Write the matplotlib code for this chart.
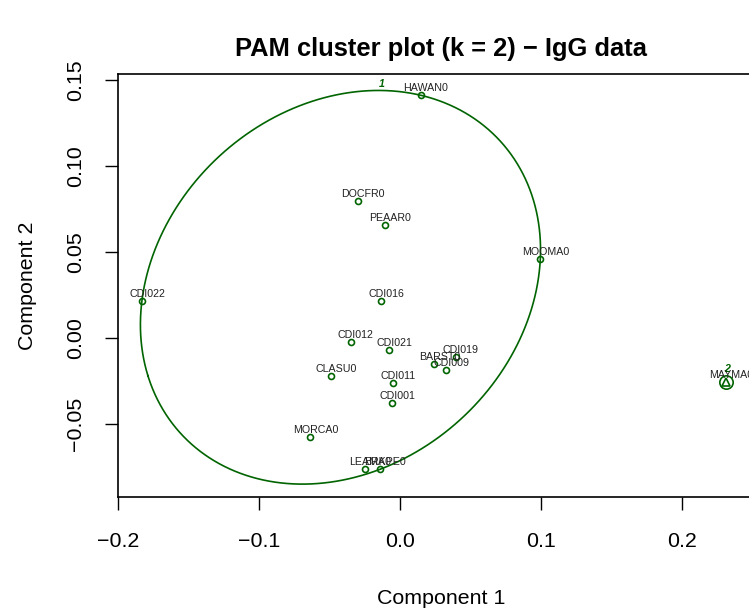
import numpy as np
import matplotlib
matplotlib.use('Agg')
import matplotlib.pyplot as plt

plt.rcParams['font.family'] = ['Liberation Sans', 'DejaVu Sans']

# --- dados: coordenadas nas duas primeiras componentes ---
nomes = ["HAWAN0", "DOCFR0", "PEAAR0", "MOOMA0", "CDI022", "CDI016", "CDI012",
         "CDI021", "BARST0", "CDI019", "CDI009", "CLASU0", "CDI011", "CDI001",
         "MORCA0", "LEAMA0", "BRKPE0", "MAYMA0"]
comp1 = [0.0149, -0.0300, -0.0106, 0.0995, -0.1830, -0.0135, -0.0348,
         -0.0078, 0.0243, 0.0395, 0.0329, -0.0489, -0.0050, -0.0054,
         -0.0636, -0.0246, -0.0142, 0.2310]
comp2 = [0.1411, 0.0797, 0.0657, 0.0461, 0.0217, 0.0215, -0.0024,
         -0.0070, -0.0153, -0.0112, -0.0184, -0.0221, -0.0264, -0.0380,
         -0.0577, -0.0763, -0.0763, -0.0254]
cluster = [1] * 17 + [2]

xticks = [-0.2, -0.1, 0.0, 0.1, 0.2]
yticks = [-0.05, 0.00, 0.05, 0.10, 0.15]

verde = '#006400'


def elipse_minima(P, tol=1e-9, maxit=20000):
    # algoritmo de Khachiyan (elipse de menor area que cobre todos os pontos)
    N, d = P.shape
    Q = np.vstack([P.T, np.ones(N)])
    u = np.ones(N) / N
    for _ in range(maxit):
        X = Q @ np.diag(u) @ Q.T
        M = np.einsum('ij,ji->i', Q.T @ np.linalg.inv(X), Q)
        j = np.argmax(M)
        step = (M[j] - d - 1) / ((d + 1) * (M[j] - 1))
        novo = (1 - step) * u
        novo[j] += step
        if np.linalg.norm(novo - u) < tol:
            u = novo
            break
        u = novo
    c = P.T @ u
    A = np.linalg.inv(P.T @ np.diag(u) @ P - np.outer(c, c)) / d
    # garante que todos os pontos ficam dentro
    dist = np.einsum('ij,jk,ik->i', P - c, A, P - c)
    A = A / dist.max()
    return A, c


x = np.array(comp1)
y = np.array(comp2)
cl = np.array(cluster)

fig = plt.figure(figsize=(7.49, 6.09), dpi=100)
ax = fig.add_axes([0.1575, 0.1839, 0.8638, 0.6946])

# cluster 1: elipse
P1 = np.column_stack([x[cl == 1], y[cl == 1]])
A, c = elipse_minima(P1)
vals, vecs = np.linalg.eigh(A)
t = np.linspace(0, 2 * np.pi, 400)
circ = np.vstack([np.cos(t), np.sin(t)])
ell = c[:, None] + vecs @ np.diag(1 / np.sqrt(vals)) @ circ
ax.plot(ell[0], ell[1], color=verde, lw=1.2)
top = ell[:, np.argmax(ell[1])]
ax.annotate("1", xy=(top[0], top[1]), xytext=(3, 5), textcoords='offset points',
            ha='center', va='center', color=verde, fontsize=7.7,
            fontweight='bold', fontstyle='italic')

ax.plot(x[cl == 1], y[cl == 1], 'o', ms=4.3, mfc='none', mec=verde, mew=1.2)

# cluster 2: um unico ponto
ax.plot(x[cl == 2], y[cl == 2], '^', ms=5.5, mfc='none', mec=verde, mew=1.2)
ax.plot(x[cl == 2], y[cl == 2], 'o', ms=9.6, mfc='none', mec=verde, mew=1.2)
ax.annotate("2", xy=(x[cl == 2][0], y[cl == 2][0]), xytext=(1, 9.5),
            textcoords='offset points', ha='center', va='center', color=verde,
            fontsize=7.7, fontweight='bold', fontstyle='italic')

for nm, xi, yi in zip(nomes, x, y):
    ax.annotate(nm, xy=(xi, yi), xytext=(3.6, 3), textcoords='offset points',
                ha='center', va='baseline', fontsize=7.7, color='#222222')

ax.set_xlim(-0.2, 0.2588)
ax.set_ylim(-0.0924, 0.1535)
ax.set_xticks(xticks)
ax.set_xticklabels(["\u22120.2", "\u22120.1", "0.0", "0.1", "0.2"])
ax.set_yticks(yticks)
ax.set_yticklabels(["\u22120.05", "0.00", "0.05", "0.10", "0.15"])
ax.tick_params(axis='both', labelsize=15.4, length=9.4, width=1.0)
ax.tick_params(axis='x', pad=16)
ax.tick_params(axis='y', labelrotation=90, pad=14)
for lab in ax.get_yticklabels():
    lab.set_va('center')
for s in ax.spines.values():
    s.set_linewidth(1.2)

ax.set_xlabel("Component 1", fontsize=15.4, labelpad=27)
ax.set_ylabel("Component 2", fontsize=15.4, labelpad=21.5)
fig.text(0.589, 0.908, "PAM cluster plot (k = 2) \u2212 IgG data", ha='center',
         va='baseline', fontsize=18.4, fontweight='bold')

fig.savefig("out.png", dpi=100)
